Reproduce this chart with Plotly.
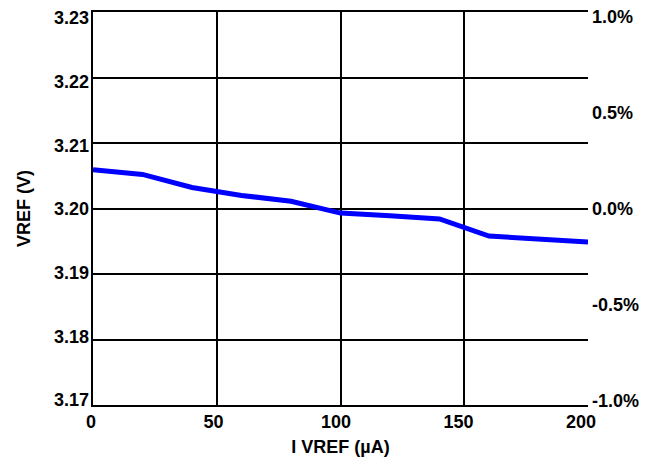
import plotly.graph_objects as go

i_vref_ua = [0, 20, 40, 60, 80, 100, 120, 140, 160, 180, 200]
vref_v = [3.2059, 3.2052, 3.2032, 3.2020, 3.2011, 3.1993, 3.1989, 3.1984, 3.1958, 3.1953, 3.1949]

x_ticks = [0, 50, 100, 150, 200]
y_ticks = [3.17, 3.18, 3.19, 3.20, 3.21, 3.22, 3.23]
y2_ticks = [-1.0, -0.5, 0.0, 0.5, 1.0]
y2_labels = ["-1.0%", "-0.5%", "0.0%", "0.5%", "1.0%"]

FONT = "Liberation Sans, Arial, sans-serif"
tf = dict(size=18, family=FONT, color="black", weight="bold")

fig = go.Figure()
fig.add_trace(go.Scatter(x=i_vref_ua, y=vref_v, mode="lines",
                         line=dict(color="#0000FF", width=5), showlegend=False))
# invisible helper traces so the label axes are drawn
fig.add_trace(go.Scatter(x=[i_vref_ua[0]], y=[0], yaxis="y2", mode="markers",
                         marker=dict(opacity=0), showlegend=False, hoverinfo="skip"))
fig.add_trace(go.Scatter(x=[i_vref_ua[-1]], y=[vref_v[0]], xaxis="x2", yaxis="y3", mode="markers",
                         marker=dict(opacity=0), showlegend=False, hoverinfo="skip"))

# page body has an 8px default margin, so the figure is 8px smaller and shifted
fig.update_layout(
    width=648, height=449,
    margin=dict(l=85, r=68, t=4, b=52),
    paper_bgcolor="white", plot_bgcolor="white",
    font=dict(family=FONT, size=18, color="black"),
    # grid / frame axes (no labels)
    xaxis=dict(range=[0, 200], tickvals=x_ticks, showgrid=True, gridcolor="black", gridwidth=2,
               showline=True, linecolor="black", linewidth=2, mirror=True, zeroline=False,
               automargin=False, showticklabels=False),
    yaxis=dict(range=[3.17, 3.23], tickvals=y_ticks, showgrid=True,
               gridcolor="black", gridwidth=2, showline=True, linecolor="black", linewidth=2,
               zeroline=False, automargin=False, showticklabels=False),
    # label axes
    xaxis2=dict(range=[0, 202], tickvals=x_ticks, overlaying="x", side="bottom", anchor="y",
                showgrid=False, zeroline=False, showline=False, automargin=False,
                tickfont=tf, ticklabelstandoff=4, ticklabelshift=-2, ticklabeloverflow="allow",
                title=dict(text="<b>I VREF (µA)</b>", font=dict(size=18), standoff=9)),
    yaxis3=dict(range=[3.169215, 3.230942], tickvals=y_ticks, tickformat=".2f",
                overlaying="y", side="left", anchor="x", showgrid=False, zeroline=False,
                showline=False, automargin=False, tickfont=tf, ticklabelstandoff=3,
                ticklabeloverflow="allow",
                title=dict(text="<b>VREF (V)</b>", font=dict(size=18), standoff=18)),
    yaxis2=dict(range=[-1.025, 1.025], tickvals=y2_ticks, ticktext=y2_labels, overlaying="y",
                side="right", showgrid=False, zeroline=False, showline=False,
                automargin=False, tickfont=tf, ticklabelstandoff=3, ticklabeloverflow="allow"),
)

fig.write_html("out.html")
